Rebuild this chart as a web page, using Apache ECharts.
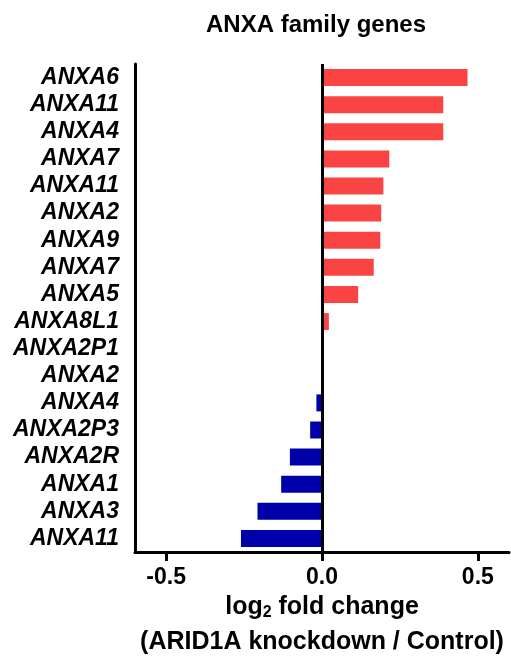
<!DOCTYPE html>
<html>
<head>
<meta charset="utf-8">
<script src="https://cdn.jsdelivr.net/npm/echarts@6/dist/echarts.min.js"></script>
<style>
  html, body { margin: 0; padding: 0; background: #fff; }
  #chart { width: 511px; height: 660px; }
</style>
</head>
<body>
<div id="chart"></div>
<script>
// genes, top to bottom
var genes = ['ANXA6', 'ANXA11', 'ANXA4', 'ANXA7', 'ANXA11', 'ANXA2', 'ANXA9', 'ANXA7', 'ANXA5',
             'ANXA8L1', 'ANXA2P1', 'ANXA2', 'ANXA4', 'ANXA2P3', 'ANXA2R', 'ANXA1', 'ANXA3', 'ANXA11'];
// log2 fold change (ARID1A knockdown / Control)
var log2fc = [0.467, 0.389, 0.389, 0.216, 0.197, 0.19, 0.187, 0.166, 0.116,
              0.022, 0, 0, -0.018, -0.038, -0.103, -0.131, -0.207, -0.26];
var xTicks = [-0.5, 0, 0.5];

var font = 'Liberation Sans, Arial, sans-serif';
var upColor = '#FA4444';
var downColor = '#0000AA';

var myChart = echarts.init(document.getElementById('chart'));
var option = {
    backgroundColor: '#fff',
    animation: false,
    title: {
        text: 'ANXA family genes',
        left: 311,
        top: 8,
        textAlign: 'center',
        textStyle: { fontFamily: font, fontSize: 24, fontWeight: 'bold', color: '#000' }
    },
    grid: { left: 135, right: 2, top: 64, bottom: 108 },
    xAxis: {
        type: 'value',
        min: -0.6,
        max: 0.6,
        splitLine: { show: false },
        axisLine: { show: true, onZero: false, lineStyle: { color: '#000', width: 3 } },
        axisTick: { show: true, customValues: xTicks, length: 9, lineStyle: { color: '#000', width: 3 } },
        axisLabel: {
            customValues: xTicks,
            margin: 14,
            fontFamily: font, fontSize: 23, fontWeight: 'bold', color: '#000',
            formatter: function (v) { return v.toFixed(1); }
        },
        name: '{b|log}{s|2}{b| fold change}\n{b|(ARID1A knockdown / Control)}',
        nameLocation: 'middle',
        nameGap: 38,
        nameTextStyle: {
            fontFamily: font, color: '#000', verticalAlign: 'top',
            rich: {
                b: { fontFamily: font, fontSize: 25, fontWeight: 'bold', color: '#000', lineHeight: 35 },
                s: { fontFamily: font, fontSize: 16, fontWeight: 'bold', color: '#000', lineHeight: 35, padding: [11, 0, 0, 0] }
            }
        }
    },
    yAxis: {
        type: 'category',
        data: genes,
        inverse: true,
        axisLine: { show: true, onZero: false, lineStyle: { color: '#000', width: 3 } },
        axisTick: { show: false },
        axisLabel: {
            interval: 0,
            margin: 16,
            fontFamily: font, fontSize: 23, fontWeight: 'bold', fontStyle: 'italic', color: '#000'
        }
    },
    series: [{
        type: 'bar',
        data: log2fc,
        barWidth: 17,
        itemStyle: {
            color: function (p) { return p.value >= 0 ? upColor : downColor; }
        },
        markLine: {
            silent: true,
            symbol: 'none',
            label: { show: false },
            lineStyle: { color: '#000', width: 3, type: 'solid' },
            data: [{ xAxis: 0 }]
        }
    }]
};
myChart.setOption(option);
</script>
</body>
</html>
